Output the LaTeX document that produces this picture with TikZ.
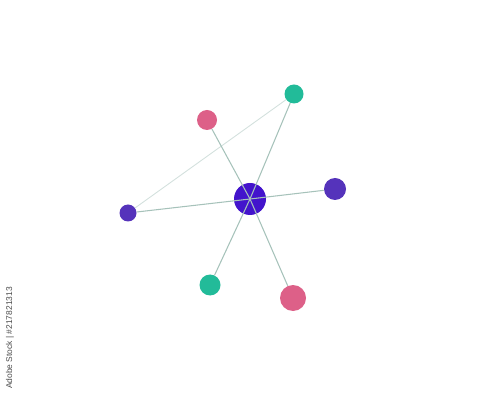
\documentclass[tikz,border=0pt]{standalone}
\usepackage{fontspec}
\setsansfont{Liberation Sans}
\definecolor{hubblue}{HTML}{4314CC}
\definecolor{leafgreen}{HTML}{22BB99}
\definecolor{leafpink}{HTML}{DD6088}
\definecolor{leafpurple}{HTML}{5533BB}
\definecolor{edgegrey}{HTML}{A6C2BA}
\tikzset{
  dot/.style={circle, inner sep=0pt, fill=#1},
  spoke/.style={edgegrey, line width=0.6pt},
}
\begin{document}
\begin{tikzpicture}
\useasboundingbox (0,0) rectangle (10,8);
\node [dot=hubblue, minimum size=0.64cm] (hub) at (5,4.02) {};
\node [dot=leafgreen, minimum size=0.38cm] (greentop) at (5.88,6.12) {};
\node [dot=leafpink, minimum size=0.40cm] (pinktop) at (4.14,5.6) {};
\node [dot=leafpurple, minimum size=0.34cm] (purpleleft) at (2.56,3.74) {};
\node [dot=leafpurple, minimum size=0.44cm] (purpleright) at (6.70,4.22) {};
\node [dot=leafgreen, minimum size=0.42cm] (greenbot) at (4.2,2.3) {};
\node [dot=leafpink, minimum size=0.52cm] (pinkbot) at (5.86,2.04) {};

\draw [edgegrey!50, line width=0.5pt] (purpleleft) -- (greentop);
\foreach \leaf in {greentop,pinktop,purpleleft,purpleright,greenbot,pinkbot}
  \draw [spoke] (hub.center) -- (\leaf);

\node [rotate=90, text=black!70, font=\sffamily\fontsize{4.8}{6}\selectfont] (stockid) at (0.2,1.24) {Adobe Stock | \#217821313};
\end{tikzpicture}
\end{document}
